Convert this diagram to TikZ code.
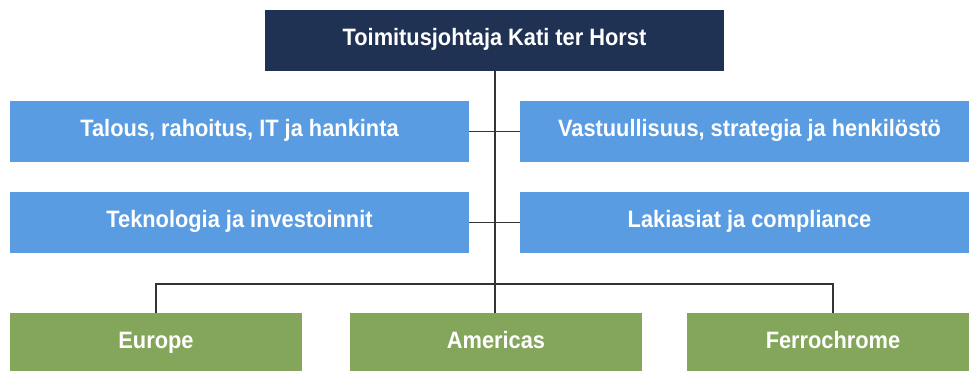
\documentclass[tikz,border=0pt]{standalone}
\usepackage{fontspec}
\setmainfont{Liberation Sans}[FakeStretch=0.92]
\definecolor{navy}{HTML}{1F3253}
\definecolor{lblue}{HTML}{5A9CE2}
\definecolor{lgreen}{HTML}{84A65A}
\definecolor{lineg}{HTML}{333333}
\tikzset{
  every node/.style={font=\fontsize{23.7}{26}\selectfont\bfseries, text=white, inner sep=0pt, outer sep=0pt, text height=1.05em, text depth=0em},
  ceobox/.style={fill=navy, minimum width=459pt, minimum height=61pt},
  staffbox/.style={fill=lblue, minimum width=459pt, minimum height=61pt},
  unitbox/.style={fill=lgreen, minimum width=292pt, minimum height=60pt},
  conn/.style={draw=lineg, line width=1.4pt}
}
\begin{document}
\begin{tikzpicture}[x=1pt, y=-1pt]
\useasboundingbox (0,0) rectangle (969,370);
\node[ceobox] (ceo) at (494.5,40.5) {Toimitusjohtaja Kati ter Horst};
\node[staffbox] (fin) at (239.5,131.5) {Talous, rahoitus, IT ja hankinta};
\node[staffbox] (sus) at (749.5,131.5) {Vastuullisuus, strategia ja henkilöstö};
\node[staffbox] (tec) at (239.5,222.5) {Teknologia ja investoinnit};
\node[staffbox] (law) at (749.5,222.5) {Lakiasiat ja compliance};
\node[unitbox] (eur) at (156,343) {Europe};
\node[unitbox] (ame) at (496,343) {Americas};
\node[unitbox] (fer) at (833,343) {Ferrochrome};
\coordinate (bus) at (495,284);
\draw[conn] (ceo.south -| bus) -- (ame.north -| bus);
\draw[conn] (fin.east) -- (sus.west);
\draw[conn] (tec.east) -- (law.west);
\draw[conn] (eur.north) |- (bus) -| (fer.north);
\end{tikzpicture}
\end{document}
